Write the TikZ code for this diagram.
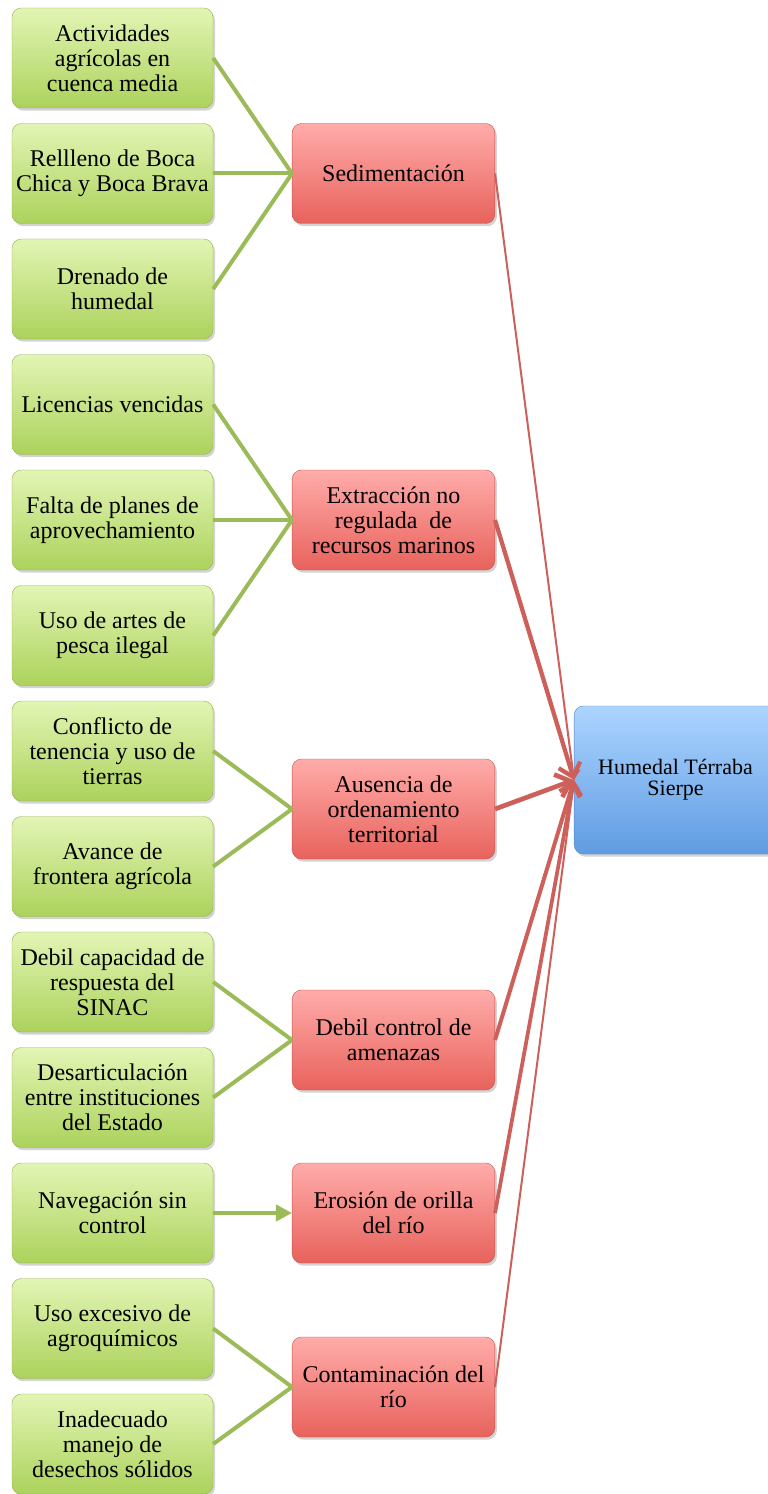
\documentclass[tikz,border=0pt]{standalone}
\usepackage{fontspec}
\setmainfont{Liberation Serif}
\usetikzlibrary{arrows.meta,shadows}
\definecolor{greentop}{RGB}{226,245,180}
\definecolor{greenbot}{RGB}{172,210,92}
\definecolor{redtop}{RGB}{255,172,170}
\definecolor{redbot}{RGB}{232,98,92}
\definecolor{bluetop}{RGB}{172,212,255}
\definecolor{bluebot}{RGB}{96,156,226}
\definecolor{linegreen}{RGB}{155,187,89}
\definecolor{linered}{RGB}{205,96,90}
\begin{document}
\begin{tikzpicture}[
        x=0.75pt, y=-0.75pt,
        box/.style={rounded corners=7pt, align=center, inner sep=3pt,
            font=\fontsize{18}{18.75}\selectfont, minimum height=75pt,
            drop shadow={opacity=0.35, shadow xshift=1.5pt, shadow yshift=-2pt}},
        cause/.style={box, minimum width=150.75pt, top color=greentop, bottom color=greenbot,
            draw=greenbot!85!black, line width=0.3pt},
        effect/.style={box, minimum width=152pt, top color=redtop, bottom color=redbot,
            draw=redbot!85!black, line width=0.3pt},
        target/.style={box, minimum width=152pt, minimum height=111pt, top color=bluetop,
            bottom color=bluebot, draw=bluebot!85!black, line width=0.3pt,
            font=\fontsize{16.5}{15.75}\selectfont},
        gl/.style={draw=linegreen, line width=3pt},
        rl/.style={draw=linered, line width=#1,
            -{Straight Barb[length=3pt 2, width=4pt 4]}},
    ]
    \useasboundingbox (0,0) rectangle (767,1494);

    % causas
    \node[cause](act) at (112.5,58) {Actividades\\agrícolas en\\cuenca media};
    \node[cause](rel) at (112.5,173.5) {Rellleno de Boca\\Chica y Boca Brava};
    \node[cause](dre) at (112.5,289) {Drenado de\\humedal};
    \node[cause](lic) at (112.5,404.5) {Licencias vencidas};
    \node[cause](fal) at (112.5,520) {Falta de planes de\\aprovechamiento};
    \node[cause](art) at (112.5,635.5) {Uso de artes de\\pesca ilegal};
    \node[cause](con) at (112.5,751) {Conflicto de\\tenencia y uso de\\tierras};
    \node[cause](ava) at (112.5,866.5) {Avance de\\frontera agrícola};
    \node[cause](cap) at (112.5,982) {Debil capacidad de\\respuesta del\\SINAC};
    \node[cause](des) at (112.5,1097.5) {Desarticulación\\entre instituciones\\del Estado};
    \node[cause](nav) at (112.5,1213) {Navegación sin\\control};
    \node[cause](agr) at (112.5,1328.5) {Uso excesivo de\\agroquímicos};
    \node[cause](ina) at (112.5,1444) {Inadecuado\\manejo de\\desechos sólidos};

    % efectos
    \node[effect](sed) at (393.5,173.5) {Sedimentación};
    \node[effect](ext) at (393.5,520) {Extracción no\\regulada~ de\\recursos marinos};
    \node[effect](aus) at (393.5,809) {Ausencia de\\ordenamiento\\territorial};
    \node[effect](dco) at (393.5,1040) {Debil control de\\amenazas};
    \node[effect](ero) at (393.5,1213) {Erosión de orilla\\del río};
    \node[effect](cri) at (393.5,1387) {Contaminación del\\río};

    \node[target](hum) at (675.5,780) {Humedal Térraba\\Sierpe};
    \coordinate (tip) at (574,780);

    \path[gl]
    (act.east) edge (sed.west)
    (rel.east) edge (sed.west)
    (dre.east) edge (sed.west)
    (lic.east) edge (ext.west)
    (fal.east) edge (ext.west)
    (art.east) edge (ext.west)
    (con.east) edge (aus.west)
    (ava.east) edge (aus.west)
    (cap.east) edge (dco.west)
    (des.east) edge (dco.west)
    (agr.east) edge (cri.west)
    (ina.east) edge (cri.west)
    ;
    \draw[gl, -{Triangle[length=12pt, width=12pt]}] (nav.east) -- (ero.west);

    \draw[rl=1.5pt] (sed.east) -- (tip);
    \draw[rl=3.2pt] (ext.east) -- (tip);
    \draw[rl=3.5pt] (aus.east) -- (tip);
    \draw[rl=3pt] (dco.east) -- (tip);
    \draw[rl=2.8pt] (ero.east) -- (tip);
    \draw[rl=1.5pt] (cri.east) -- (tip);
\end{tikzpicture}
\end{document}
